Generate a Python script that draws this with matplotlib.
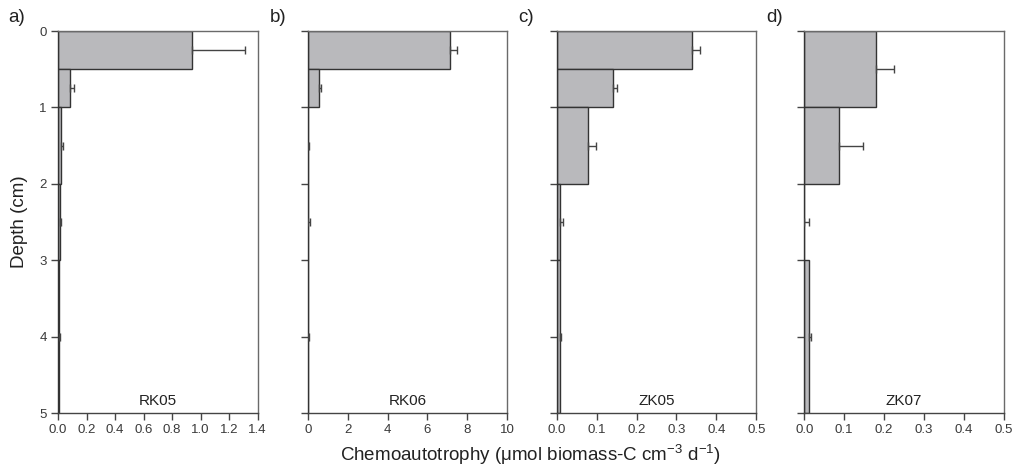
import matplotlib.pyplot as plt
import numpy as np

plt.rcParams['font.family'] = ['Liberation Sans', 'DejaVu Sans']

# depth intervals (cm) for each core
tops_rk = [0, 0.5, 1, 2, 3]
bots_rk = [0.5, 1, 2, 3, 5]
tops_zk07 = [0, 1, 2, 3]
bots_zk07 = [1, 2, 3, 5]

# chemoautotrophy rates and upper error (umol biomass-C cm-3 d-1)
rk05 = [0.94, 0.085, 0.02, 0.012, 0.01]
rk05_err = [0.37, 0.027, 0.013, 0.006, 0.004]
rk06 = [7.15, 0.57, 0.02, 0.02, 0.02]
rk06_err = [0.34, 0.08, 0.05, 0.08, 0.04]
zk05 = [0.339, 0.14, 0.078, 0.008, 0.008]
zk05_err = [0.021, 0.01, 0.021, 0.009, 0.004]
zk07 = [0.179, 0.088, 0.0, 0.012]
zk07_err = [0.046, 0.06, 0.013, 0.006]

panels = [
    ('a)', 'RK05', tops_rk, bots_rk, rk05, rk05_err, 1.4, np.arange(0, 1.41, 0.2), '{:.1f}'),
    ('b)', 'RK06', tops_rk, bots_rk, rk06, rk06_err, 10, np.arange(0, 11, 2), '{:.0f}'),
    ('c)', 'ZK05', tops_rk, bots_rk, zk05, zk05_err, 0.5, np.arange(0, 0.51, 0.1), '{:.1f}'),
    ('d)', 'ZK07', tops_zk07, bots_zk07, zk07, zk07_err, 0.5, np.arange(0, 0.51, 0.1), '{:.1f}'),
]

fig = plt.figure(figsize=(10.22, 4.71), dpi=100)

lefts = [58, 307.7, 556.7, 804.3]
fill = '#b9b9bc'
edge = '#333333'
spine_col = '#6a6a6a'

for i, (tag, name, tops, bots, vals, errs, xmax, xt, fmt) in enumerate(panels):
    ax = fig.add_axes([lefts[i] / 1022, 1 - 413 / 471, 199.5 / 1022, 382 / 471])
    tops = np.array(tops)
    bots = np.array(bots)
    mids = (tops + bots) / 2
    ax.barh(mids, vals, height=bots - tops, left=0, color=fill,
            edgecolor=edge, linewidth=1.0, zorder=2)
    ax.errorbar(vals, mids, xerr=[np.zeros(len(errs)), errs], fmt='none',
                ecolor='#444444', elinewidth=1.0, capsize=3, capthick=1.0, zorder=3)
    ax.set_xlim(0, xmax)
    ax.set_ylim(5, 0)
    ax.set_xticks(xt)
    ax.set_xticklabels([fmt.format(v) for v in xt])
    ax.set_yticks(range(6))
    if i > 0:
        ax.set_yticklabels([])
    else:
        ax.set_ylabel('Depth (cm)', fontsize=13.5, color='#222222', labelpad=8)
    ax.tick_params(direction='out', length=5, width=1, colors='#444444',
                   labelsize=9.5, labelcolor='#3a3a3a', pad=3)
    for s in ax.spines.values():
        s.set_color(spine_col)
        s.set_linewidth(1.0)
    ax.spines['left'].set_color('#333333')
    ax.spines['bottom'].set_color('#444444')
    ax.text(0.5, 0.012, name, transform=ax.transAxes, ha='center', va='bottom',
            fontsize=11, color='#222222')
    fig.text((lefts[i] - 38) / 1022 if i > 0 else 8 / 1022, 1 - 17 / 471, tag,
             ha='left', va='center', fontsize=13.5, color='#222222')

fig.text(530 / 1022, 1 - 455 / 471,
         r'Chemoautotrophy ($\mathregular{\mu}$mol biomass-C cm$^{\mathregular{-3}}$ d$^{\mathregular{-1}}$)',
         ha='center', va='center', fontsize=13.5, color='#222222')

fig.savefig('out.png', dpi=100)
